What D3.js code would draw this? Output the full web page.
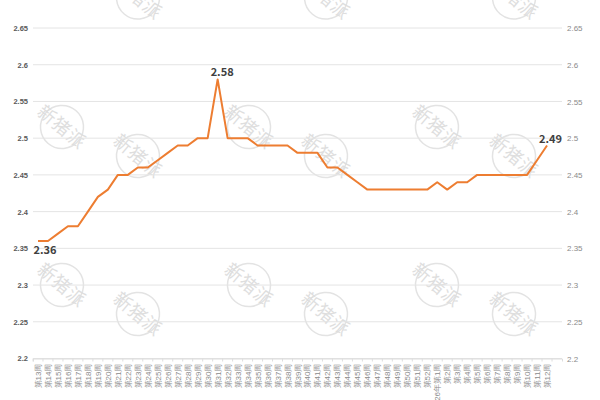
<!DOCTYPE html>
<html>
<head>
<meta charset="utf-8">
<script src="https://cdn.jsdelivr.net/npm/d3@7/dist/d3.min.js"></script>
<style>
  html, body { margin: 0; padding: 0; background: #fff; overflow: hidden; }
  svg { display: block; }
</style>
</head>
<body>
<svg id="chart"></svg>
<script>
const weeks = [
  "第13周", "第14周", "第15周", "第16周", "第17周", "第18周", "第19周", "第20周", "第21周", "第22周",
  "第23周", "第24周", "第25周", "第26周", "第27周", "第28周", "第29周", "第30周", "第31周", "第32周",
  "第33周", "第34周", "第35周", "第36周", "第37周", "第38周", "第39周", "第40周", "第41周", "第42周",
  "第43周", "第44周", "第45周", "第46周", "第47周", "第48周", "第49周", "第50周", "第51周", "第52周",
  "2026年第1周", "第2周", "第3周", "第4周", "第5周", "第6周", "第7周", "第8周", "第9周", "第10周",
  "第11周", "第12周", ""
];
const prices = [
  2.36, 2.36, 2.37, 2.38, 2.38, 2.40, 2.42, 2.43, 2.45, 2.45,
  2.46, 2.46, 2.47, 2.48, 2.49, 2.49, 2.50, 2.50, 2.58, 2.50,
  2.50, 2.50, 2.49, 2.49, 2.49, 2.49, 2.48, 2.48, 2.48, 2.46,
  2.46, 2.45, 2.44, 2.43, 2.43, 2.43, 2.43, 2.43, 2.43, 2.43,
  2.44, 2.43, 2.44, 2.44, 2.45, 2.45, 2.45, 2.45, 2.45, 2.45,
  2.47, 2.49
];
const yTicks = [2.2, 2.25, 2.3, 2.35, 2.4, 2.45, 2.5, 2.55, 2.6, 2.65];
const labelled = [0, 18, 51];
const stamps = [
  [138, -2.5], [326, -2.5], [514, -2.5],
  [62, 127], [138, 156], [249, 127], [326, 156], [437, 127], [514, 156],
  [62, 285], [138, 314], [249, 285], [326, 314], [437, 285], [514, 314]
];

const width = 600;
const height = 400;
const marginLeft = 33;
const marginRight = 38;
const marginTop = 28;
const marginBottom = 42;

const svg = d3.select("#chart")
  .attr("width", width)
  .attr("height", height)
  .attr("viewBox", [0, 0, width, height])
  .style("font-family", "'Noto Sans CJK SC', 'Noto Sans', sans-serif");

const x = d3.scaleBand(weeks, [marginLeft, width - marginRight]);
const y = d3.scaleLinear([2.2, 2.65], [height - marginBottom + 0.5, marginTop]);

// watermark stamps
const stamp = svg.append("g")
  .selectAll("g")
  .data(stamps)
  .join("g")
  .attr("transform", d => `translate(${d[0]},${d[1]}) rotate(40)`);
stamp.append("circle")
  .attr("r", 21.5)
  .attr("fill", "none")
  .attr("stroke", "#e3e3e3")
  .attr("stroke-width", 1.5);
stamp.append("text")
  .attr("text-anchor", "middle")
  .attr("dy", "0.36em")
  .attr("font-size", 18)
  .attr("letter-spacing", 1)
  .attr("fill", "#dedede")
  .text("新猪派");

// grid lines
svg.append("g")
  .selectAll("line")
  .data(yTicks)
  .join("line")
  .attr("x1", marginLeft)
  .attr("x2", width - marginRight)
  .attr("y1", d => y(d))
  .attr("y2", d => y(d))
  .attr("stroke", "#e4e4e4")
  .attr("stroke-width", 1);

// left axis
svg.append("g")
  .attr("transform", `translate(${marginLeft},0)`)
  .call(d3.axisLeft(y).tickValues(yTicks).tickFormat(d => d).tickSize(0).tickPadding(5))
  .call(g => g.select(".domain").remove())
  .call(g => g.selectAll("text")
    .attr("fill", "#595959")
    .attr("font-weight", "bold")
    .attr("font-size", 7.5));

// right axis
svg.append("g")
  .attr("transform", `translate(${width - marginRight},0)`)
  .call(d3.axisRight(y).tickValues(yTicks).tickFormat(d => d).tickSize(0).tickPadding(5))
  .call(g => g.select(".domain").remove())
  .call(g => g.selectAll("text")
    .attr("fill", "#8a8a8a")
    .attr("font-size", 8));

// bottom axis
svg.append("g")
  .attr("transform", `translate(0,${y(2.2)})`)
  .call(d3.axisBottom(x).tickSize(3))
  .call(g => g.select(".domain").attr("stroke", "#ddd"))
  .call(g => g.selectAll(".tick line")
    .attr("stroke", "#ddd")
    .attr("transform", `translate(${-x.bandwidth() / 2},0)`))
  .call(g => g.selectAll("text")
    .attr("fill", "#8a8a8a")
    .attr("font-size", 8)
    .attr("text-anchor", "end")
    .attr("y", 0)
    .attr("dy", 0)
    .attr("transform", "translate(3,5) rotate(-90)"));

// line
const line = d3.line()
  .x((d, i) => x(weeks[i]) + x.bandwidth() / 2)
  .y(d => y(d));

svg.append("path")
  .attr("fill", "none")
  .attr("stroke", "#ed7d31")
  .attr("stroke-width", 2)
  .attr("stroke-linejoin", "round")
  .attr("d", line(prices));

// value labels
svg.append("g")
  .selectAll("text")
  .data(labelled)
  .join("text")
  .attr("x", i => x(weeks[i]) + x.bandwidth() / 2 + (i === 0 ? 7 : i === 18 ? 4.5 : 3.5))
  .attr("y", i => y(prices[i]) + (i === 0 ? 13 : -3))
  .attr("text-anchor", "middle")
  .attr("font-size", 11)
  .attr("font-weight", "bold")
  .attr("fill", "#404040")
  .text(i => prices[i].toFixed(2));
</script>
</body>
</html>
